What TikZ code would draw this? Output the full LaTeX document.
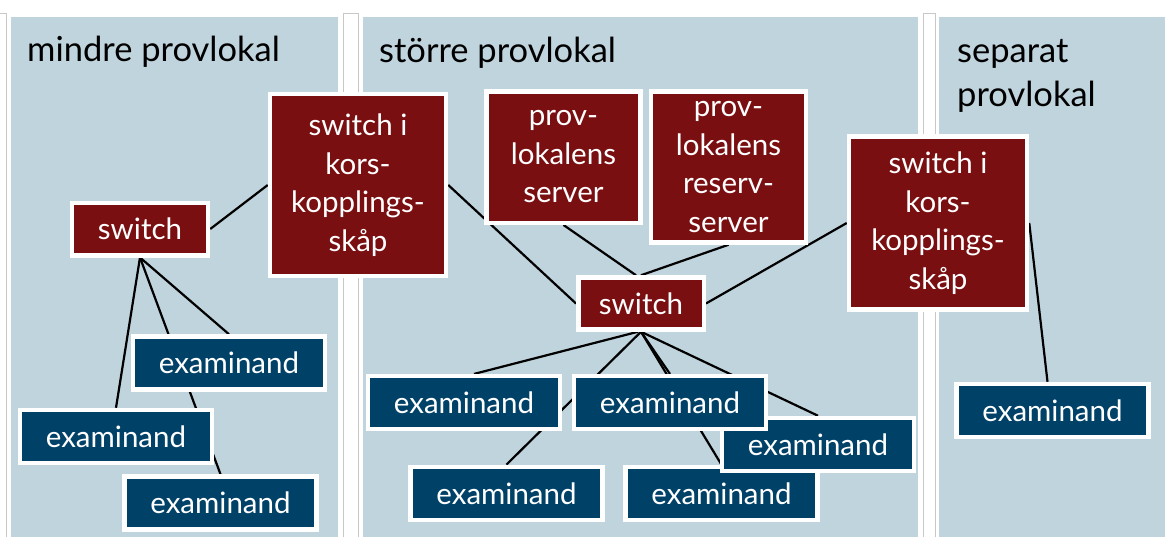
\documentclass[tikz,border=0pt]{standalone}
\usepackage{fontspec}
\setmainfont{Lato}
\definecolor{panel}{RGB}{192,212,221}
\definecolor{dred}{RGB}{122,15,17}
\definecolor{dblue}{RGB}{0,65,104}
\definecolor{divgray}{RGB}{200,200,200}
\newcommand{\nodefont}{\fontsize{29.5}{38.5}\selectfont}
\newcommand{\titlefont}{\fontsize{34.5}{44}\selectfont}
\pgfdeclarelayer{back}
\pgfdeclarelayer{lines}
\pgfsetlayers{back,lines,main}
\tikzset{
  box/.style={draw=white, line width=4.5pt, inner sep=0pt, align=center, text=white, font=\nodefont},
  redbox/.style={box, fill=dred},
  bluebox/.style={box, fill=dblue, minimum width=192pt, minimum height=53pt},
  conn/.style={draw=black, line width=2.2pt},
  paneltitle/.style={anchor=base west, inner sep=0pt, font=\titlefont, text=black},
  panelbg/.style={fill=panel, draw=none},
  divider/.style={fill=white, draw=divgray, line width=0.8pt},
}
\begin{document}
\begin{tikzpicture}[x=1pt,y=-1pt]
\useasboundingbox (0,0) rectangle (1165,536);
\begin{pgfonlayer}{back}
  \fill[white] (0,0) rectangle (1165,536);
  \path[panelbg] (11,17) rectangle (338,545);
  \path[panelbg] (363,17) rectangle (918,545);
  \path[panelbg] (939,17) rectangle (1175,545);
  \path[divider] (-10,13) rectangle (6,545);
  \path[divider] (343,13) rectangle (358,545);
  \path[divider] (923,13) rectangle (935,545);
\end{pgfonlayer}

\node[paneltitle] (t1) at (27,61) {mindre provlokal};
\node[paneltitle] (t2) at (379,62) {större provlokal};
\node[paneltitle] (t3a) at (957,62) {separat};
\node[paneltitle] (t3b) at (957,106) {provlokal};

% panel 1
\node[redbox, minimum width=136pt, minimum height=52.5pt] (sw1) at (140,229) {switch};
\node[redbox, minimum width=176pt, minimum height=182pt] (ks1) at (358,185) {switch i\\kors-\\kopplings-\\skåp};
\node[bluebox] (e1) at (229,363) {examinand};
\node[bluebox] (e2) at (116,436.5) {examinand};
\node[bluebox] (e3) at (220.5,503) {examinand};

% panel 2
\node[redbox, minimum width=154pt, minimum height=131.5pt] (srv) at (563.5,157) {prov-\\lokalens\\server};
\node[redbox, minimum width=155pt, minimum height=151pt] (rsrv) at (728.5,167) {prov-\\lokalens\\reserv-\\server};
\node[redbox, minimum width=125.5pt, minimum height=52pt] (sw2) at (641,303.5) {switch};
\node[bluebox] (ea) at (464,402.7) {examinand};
\node[bluebox] (ec) at (506.5,493.3) {examinand};
\node[bluebox] (ed) at (721.5,493.5) {examinand};
\node[bluebox] (ee) at (818,444.5) {examinand};
\node[bluebox] (eb) at (670,402.7) {examinand};
\node[redbox, minimum width=178pt, minimum height=173pt] (ks2) at (938,223) {switch i\\kors-\\kopplings-\\skåp};

% panel 3
\node[bluebox] (e4) at (1052.5,410.5) {examinand};

\begin{pgfonlayer}{lines}
  \draw[conn] (sw1.east) -- (ks1.west);
  \draw[conn] (sw1.south) -- (e1.north);
  \draw[conn] (sw1.south) -- (e2.north);
  \draw[conn] (sw1.south) -- (e3.north);
  \draw[conn] (ks1.east) -- (sw2.west);
  \draw[conn] (srv.south) -- ([xshift=-5pt]sw2.north);
  \draw[conn] (rsrv.south) -- (sw2.north);
  \draw[conn] (sw2.east) -- (ks2.west);
  \draw[conn] ([xshift=-3pt]sw2.south) -- ([xshift=10pt]ea.north);
  \draw[conn] (sw2.south) -- (eb.north);
  \draw[conn] (sw2.south) -- (ec.north);
  \draw[conn] (sw2.south) -- (ed.north);
  \draw[conn] (sw2.south) -- (ee.north);
  \draw[conn] (ks2.east) -- ([xshift=-5pt]e4.north);
\end{pgfonlayer}
\end{tikzpicture}
\end{document}
